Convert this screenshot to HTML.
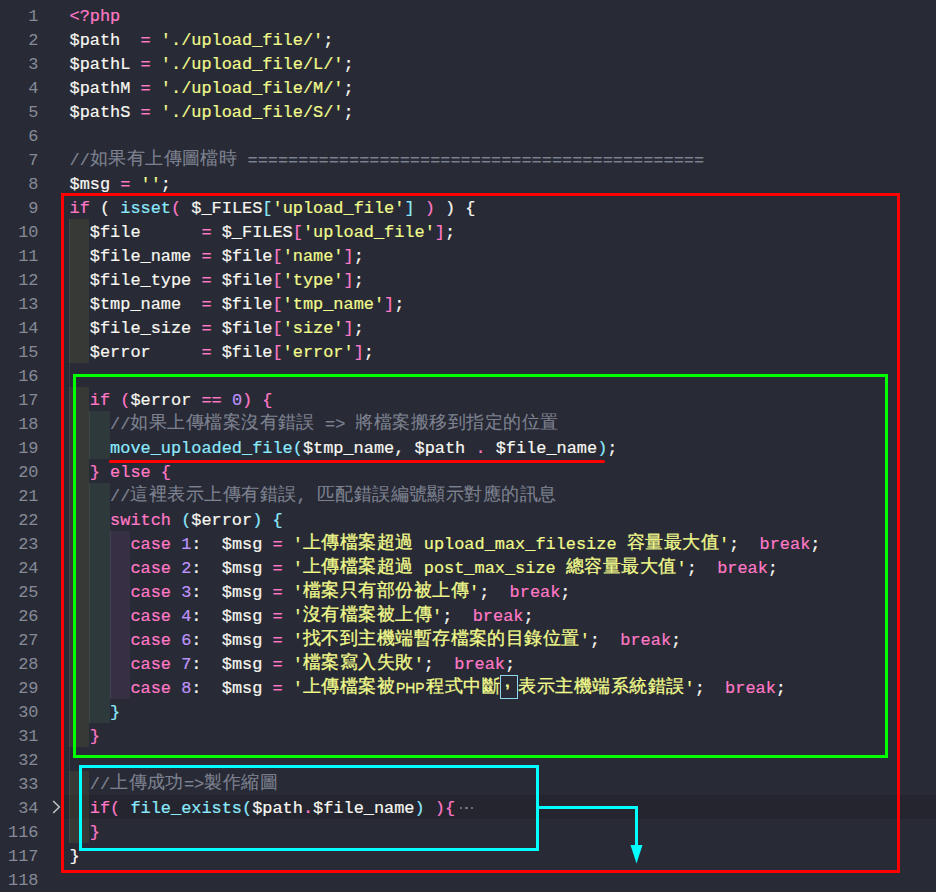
<!DOCTYPE html><html><head><meta charset="utf-8"><style>
*{margin:0;padding:0;box-sizing:border-box}
html,body{width:936px;height:892px;overflow:hidden;background:#282a36}
body{position:relative;font-family:"Liberation Mono",monospace;font-size:16.917px;line-height:24px;color:#f8f8f2}
.ln{position:absolute;left:0;width:38.5px;text-align:right;height:24px;color:#868a96;white-space:pre;padding-top:2px}
.row{position:absolute;left:69.5px;height:24px;white-space:pre;padding-top:2px;-webkit-text-stroke:0.2px}
.k{color:#ff79c6}.f{color:#8be9fd}.s{color:#f1fa8c}.n{color:#bd93f9}.c{color:#7e8290}.c .cj{-webkit-text-stroke:0.1px}.w{color:#f8f8f2}
.cj{display:inline-block;position:relative;top:-3px;-webkit-text-stroke:0.3px;font-family:"Liberation Sans",sans-serif;font-size:18px;letter-spacing:0.45px;vertical-align:top;height:24px;line-height:24px;overflow:visible;white-space:nowrap}
.php{display:inline-block;width:31px;font-family:"Liberation Sans",sans-serif;font-size:15.4px;vertical-align:top;height:24px;line-height:24px;position:relative;top:-1.5px;left:0.5px;transform:scaleX(0.9);transform-origin:0 0;-webkit-text-stroke:0.3px}
.cm{display:inline-block;vertical-align:top;height:24px;line-height:24px;font-family:"Liberation Sans",sans-serif;font-weight:bold;font-size:17px;text-indent:5px;position:relative;top:-7.5px}
.uhb{position:absolute;left:500px;top:675px;width:18px;height:24px;border:1px solid #8fd8f0}
.ell{display:inline-block;margin-left:4px;color:#8c8f99;font-size:14px;letter-spacing:-1px}
.rb{position:absolute;height:24px}
.g{position:absolute;width:1px;height:24px;background:rgba(255,255,255,0.075)}
.box{position:absolute;border-style:solid}
</style></head><body><div style="position:absolute;left:64px;top:795px;width:872px;height:24px;background:#24252f"></div>
<div class="rb" style="left:69.00px;top:219px;width:20.30px;background:rgba(255,255,64,0.07)"></div>
<div class="g" style="left:69px;top:219px"></div>
<div class="rb" style="left:69.00px;top:243px;width:20.30px;background:rgba(255,255,64,0.07)"></div>
<div class="g" style="left:69px;top:243px"></div>
<div class="rb" style="left:69.00px;top:267px;width:20.30px;background:rgba(255,255,64,0.07)"></div>
<div class="g" style="left:69px;top:267px"></div>
<div class="rb" style="left:69.00px;top:291px;width:20.30px;background:rgba(255,255,64,0.07)"></div>
<div class="g" style="left:69px;top:291px"></div>
<div class="rb" style="left:69.00px;top:315px;width:20.30px;background:rgba(255,255,64,0.07)"></div>
<div class="g" style="left:69px;top:315px"></div>
<div class="rb" style="left:69.00px;top:339px;width:20.30px;background:rgba(255,255,64,0.07)"></div>
<div class="g" style="left:69px;top:339px"></div>
<div class="g" style="left:69px;top:363px"></div>
<div class="rb" style="left:69.00px;top:387px;width:20.30px;background:rgba(255,255,64,0.07)"></div>
<div class="g" style="left:69px;top:387px"></div>
<div class="rb" style="left:69.00px;top:411px;width:20.30px;background:rgba(255,255,64,0.07)"></div>
<div class="rb" style="left:89.30px;top:411px;width:20.30px;background:rgba(127,255,127,0.07)"></div>
<div class="g" style="left:69px;top:411px"></div>
<div class="g" style="left:89px;top:411px"></div>
<div class="rb" style="left:69.00px;top:435px;width:20.30px;background:rgba(255,255,64,0.07)"></div>
<div class="rb" style="left:89.30px;top:435px;width:20.30px;background:rgba(127,255,127,0.07)"></div>
<div class="g" style="left:69px;top:435px"></div>
<div class="g" style="left:89px;top:435px"></div>
<div class="rb" style="left:69.00px;top:459px;width:20.30px;background:rgba(255,255,64,0.07)"></div>
<div class="g" style="left:69px;top:459px"></div>
<div class="rb" style="left:69.00px;top:483px;width:20.30px;background:rgba(255,255,64,0.07)"></div>
<div class="rb" style="left:89.30px;top:483px;width:20.30px;background:rgba(127,255,127,0.07)"></div>
<div class="g" style="left:69px;top:483px"></div>
<div class="g" style="left:89px;top:483px"></div>
<div class="rb" style="left:69.00px;top:507px;width:20.30px;background:rgba(255,255,64,0.07)"></div>
<div class="rb" style="left:89.30px;top:507px;width:20.30px;background:rgba(127,255,127,0.07)"></div>
<div class="g" style="left:69px;top:507px"></div>
<div class="g" style="left:89px;top:507px"></div>
<div class="rb" style="left:69.00px;top:531px;width:20.30px;background:rgba(255,255,64,0.07)"></div>
<div class="rb" style="left:89.30px;top:531px;width:20.30px;background:rgba(127,255,127,0.07)"></div>
<div class="rb" style="left:109.60px;top:531px;width:20.30px;background:rgba(255,127,255,0.07)"></div>
<div class="g" style="left:69px;top:531px"></div>
<div class="g" style="left:89px;top:531px"></div>
<div class="g" style="left:110px;top:531px"></div>
<div class="rb" style="left:69.00px;top:555px;width:20.30px;background:rgba(255,255,64,0.07)"></div>
<div class="rb" style="left:89.30px;top:555px;width:20.30px;background:rgba(127,255,127,0.07)"></div>
<div class="rb" style="left:109.60px;top:555px;width:20.30px;background:rgba(255,127,255,0.07)"></div>
<div class="g" style="left:69px;top:555px"></div>
<div class="g" style="left:89px;top:555px"></div>
<div class="g" style="left:110px;top:555px"></div>
<div class="rb" style="left:69.00px;top:579px;width:20.30px;background:rgba(255,255,64,0.07)"></div>
<div class="rb" style="left:89.30px;top:579px;width:20.30px;background:rgba(127,255,127,0.07)"></div>
<div class="rb" style="left:109.60px;top:579px;width:20.30px;background:rgba(255,127,255,0.07)"></div>
<div class="g" style="left:69px;top:579px"></div>
<div class="g" style="left:89px;top:579px"></div>
<div class="g" style="left:110px;top:579px"></div>
<div class="rb" style="left:69.00px;top:603px;width:20.30px;background:rgba(255,255,64,0.07)"></div>
<div class="rb" style="left:89.30px;top:603px;width:20.30px;background:rgba(127,255,127,0.07)"></div>
<div class="rb" style="left:109.60px;top:603px;width:20.30px;background:rgba(255,127,255,0.07)"></div>
<div class="g" style="left:69px;top:603px"></div>
<div class="g" style="left:89px;top:603px"></div>
<div class="g" style="left:110px;top:603px"></div>
<div class="rb" style="left:69.00px;top:627px;width:20.30px;background:rgba(255,255,64,0.07)"></div>
<div class="rb" style="left:89.30px;top:627px;width:20.30px;background:rgba(127,255,127,0.07)"></div>
<div class="rb" style="left:109.60px;top:627px;width:20.30px;background:rgba(255,127,255,0.07)"></div>
<div class="g" style="left:69px;top:627px"></div>
<div class="g" style="left:89px;top:627px"></div>
<div class="g" style="left:110px;top:627px"></div>
<div class="rb" style="left:69.00px;top:651px;width:20.30px;background:rgba(255,255,64,0.07)"></div>
<div class="rb" style="left:89.30px;top:651px;width:20.30px;background:rgba(127,255,127,0.07)"></div>
<div class="rb" style="left:109.60px;top:651px;width:20.30px;background:rgba(255,127,255,0.07)"></div>
<div class="g" style="left:69px;top:651px"></div>
<div class="g" style="left:89px;top:651px"></div>
<div class="g" style="left:110px;top:651px"></div>
<div class="rb" style="left:69.00px;top:675px;width:20.30px;background:rgba(255,255,64,0.07)"></div>
<div class="rb" style="left:89.30px;top:675px;width:20.30px;background:rgba(127,255,127,0.07)"></div>
<div class="rb" style="left:109.60px;top:675px;width:20.30px;background:rgba(255,127,255,0.07)"></div>
<div class="g" style="left:69px;top:675px"></div>
<div class="g" style="left:89px;top:675px"></div>
<div class="g" style="left:110px;top:675px"></div>
<div class="rb" style="left:69.00px;top:699px;width:20.30px;background:rgba(255,255,64,0.07)"></div>
<div class="rb" style="left:89.30px;top:699px;width:20.30px;background:rgba(127,255,127,0.07)"></div>
<div class="g" style="left:69px;top:699px"></div>
<div class="g" style="left:89px;top:699px"></div>
<div class="rb" style="left:69.00px;top:723px;width:20.30px;background:rgba(255,255,64,0.07)"></div>
<div class="g" style="left:69px;top:723px"></div>
<div class="g" style="left:69px;top:747px"></div>
<div class="rb" style="left:69.00px;top:771px;width:20.30px;background:rgba(255,255,64,0.07)"></div>
<div class="g" style="left:69px;top:771px"></div>
<div class="rb" style="left:69.00px;top:795px;width:20.30px;background:rgba(255,255,64,0.07)"></div>
<div class="g" style="left:69px;top:795px"></div>
<div class="rb" style="left:69.00px;top:819px;width:20.30px;background:rgba(255,255,64,0.07)"></div>
<div class="g" style="left:69px;top:819px"></div>
<div class="ln" style="top:3px">1</div>
<div class="row" style="top:3px"><span class="k">&lt;?php</span></div>
<div class="ln" style="top:27px">2</div>
<div class="row" style="top:27px"><span class="w">$path</span>  <span class="k">=</span> <span class="s">&#x27;./upload_file/&#x27;</span><span class="w">;</span></div>
<div class="ln" style="top:51px">3</div>
<div class="row" style="top:51px"><span class="w">$pathL</span> <span class="k">=</span> <span class="s">&#x27;./upload_file/L/&#x27;</span><span class="w">;</span></div>
<div class="ln" style="top:75px">4</div>
<div class="row" style="top:75px"><span class="w">$pathM</span> <span class="k">=</span> <span class="s">&#x27;./upload_file/M/&#x27;</span><span class="w">;</span></div>
<div class="ln" style="top:99px">5</div>
<div class="row" style="top:99px"><span class="w">$pathS</span> <span class="k">=</span> <span class="s">&#x27;./upload_file/S/&#x27;</span><span class="w">;</span></div>
<div class="ln" style="top:123px">6</div>
<div class="ln" style="top:147px">7</div>
<div class="row" style="top:147px"><span class="c">//<span class="cj" style="width:147.60px">如果有上傳圖檔時</span> =============================================</span></div>
<div class="ln" style="top:171px">8</div>
<div class="row" style="top:171px"><span class="w">$msg</span> <span class="k">=</span> <span class="s">&#x27;&#x27;</span><span class="w">;</span></div>
<div class="ln" style="top:195px">9</div>
<div class="row" style="top:195px"><span class="k">if</span> <span class="w">(</span> <span class="f">isset</span><span class="k">(</span> <span class="w">$_FILES</span><span class="f">[</span><span class="s">&#x27;upload_file&#x27;</span><span class="f">]</span> <span class="k">)</span> <span class="w">)</span> <span class="w">{</span></div>
<div class="ln" style="top:219px">10</div>
<div class="row" style="top:219px">  <span class="w">$file</span>      <span class="k">=</span> <span class="w">$_FILES</span><span class="k">[</span><span class="s">&#x27;upload_file&#x27;</span><span class="k">]</span><span class="w">;</span></div>
<div class="ln" style="top:243px">11</div>
<div class="row" style="top:243px">  <span class="w">$file_name</span> <span class="k">=</span> <span class="w">$file</span><span class="k">[</span><span class="s">&#x27;name&#x27;</span><span class="k">]</span><span class="w">;</span></div>
<div class="ln" style="top:267px">12</div>
<div class="row" style="top:267px">  <span class="w">$file_type</span> <span class="k">=</span> <span class="w">$file</span><span class="k">[</span><span class="s">&#x27;type&#x27;</span><span class="k">]</span><span class="w">;</span></div>
<div class="ln" style="top:291px">13</div>
<div class="row" style="top:291px">  <span class="w">$tmp_name</span>  <span class="k">=</span> <span class="w">$file</span><span class="k">[</span><span class="s">&#x27;tmp_name&#x27;</span><span class="k">]</span><span class="w">;</span></div>
<div class="ln" style="top:315px">14</div>
<div class="row" style="top:315px">  <span class="w">$file_size</span> <span class="k">=</span> <span class="w">$file</span><span class="k">[</span><span class="s">&#x27;size&#x27;</span><span class="k">]</span><span class="w">;</span></div>
<div class="ln" style="top:339px">15</div>
<div class="row" style="top:339px">  <span class="w">$error</span>     <span class="k">=</span> <span class="w">$file</span><span class="k">[</span><span class="s">&#x27;error&#x27;</span><span class="k">]</span><span class="w">;</span></div>
<div class="ln" style="top:363px">16</div>
<div class="ln" style="top:387px">17</div>
<div class="row" style="top:387px">  <span class="k">if</span> <span class="k">(</span><span class="w">$error</span> <span class="k">==</span> <span class="n">0</span><span class="k">)</span> <span class="k">{</span></div>
<div class="ln" style="top:411px">18</div>
<div class="row" style="top:411px">    <span class="c">//<span class="cj" style="width:184.50px">如果上傳檔案沒有錯誤</span> =&gt; <span class="cj" style="width:202.95px">將檔案搬移到指定的位置</span></span></div>
<div class="ln" style="top:435px">19</div>
<div class="row" style="top:435px">    <span class="f">move_uploaded_file</span><span class="f">(</span><span class="w">$tmp_name</span><span class="w">,</span> <span class="w">$path</span> <span class="k">.</span> <span class="w">$file_name</span><span class="f">)</span><span class="w">;</span></div>
<div class="ln" style="top:459px">20</div>
<div class="row" style="top:459px">  <span class="k">}</span> <span class="k">else</span> <span class="k">{</span></div>
<div class="ln" style="top:483px">21</div>
<div class="row" style="top:483px">    <span class="c">//<span class="cj" style="width:166.05px">這裡表示上傳有錯誤</span>, <span class="cj" style="width:239.85px">匹配錯誤編號顯示對應的訊息</span></span></div>
<div class="ln" style="top:507px">22</div>
<div class="row" style="top:507px">    <span class="k">switch</span> <span class="f">(</span><span class="w">$error</span><span class="f">)</span> <span class="f">{</span></div>
<div class="ln" style="top:531px">23</div>
<div class="row" style="top:531px">      <span class="k">case</span> <span class="n">1</span><span class="w">:</span>  <span class="w">$msg</span> <span class="k">=</span> <span class="s">&#x27;<span class="cj" style="width:110.70px">上傳檔案超過</span> upload_max_filesize <span class="cj" style="width:92.25px">容量最大值</span>&#x27;</span><span class="w">;</span>  <span class="k">break</span><span class="w">;</span></div>
<div class="ln" style="top:555px">24</div>
<div class="row" style="top:555px">      <span class="k">case</span> <span class="n">2</span><span class="w">:</span>  <span class="w">$msg</span> <span class="k">=</span> <span class="s">&#x27;<span class="cj" style="width:110.70px">上傳檔案超過</span> post_max_size <span class="cj" style="width:110.70px">總容量最大值</span>&#x27;</span><span class="w">;</span>  <span class="k">break</span><span class="w">;</span></div>
<div class="ln" style="top:579px">25</div>
<div class="row" style="top:579px">      <span class="k">case</span> <span class="n">3</span><span class="w">:</span>  <span class="w">$msg</span> <span class="k">=</span> <span class="s">&#x27;<span class="cj" style="width:166.05px">檔案只有部份被上傳</span>&#x27;</span><span class="w">;</span>  <span class="k">break</span><span class="w">;</span></div>
<div class="ln" style="top:603px">26</div>
<div class="row" style="top:603px">      <span class="k">case</span> <span class="n">4</span><span class="w">:</span>  <span class="w">$msg</span> <span class="k">=</span> <span class="s">&#x27;<span class="cj" style="width:129.15px">沒有檔案被上傳</span>&#x27;</span><span class="w">;</span>  <span class="k">break</span><span class="w">;</span></div>
<div class="ln" style="top:627px">27</div>
<div class="row" style="top:627px">      <span class="k">case</span> <span class="n">6</span><span class="w">:</span>  <span class="w">$msg</span> <span class="k">=</span> <span class="s">&#x27;<span class="cj" style="width:276.75px">找不到主機端暫存檔案的目錄位置</span>&#x27;</span><span class="w">;</span>  <span class="k">break</span><span class="w">;</span></div>
<div class="ln" style="top:651px">28</div>
<div class="row" style="top:651px">      <span class="k">case</span> <span class="n">7</span><span class="w">:</span>  <span class="w">$msg</span> <span class="k">=</span> <span class="s">&#x27;<span class="cj" style="width:110.70px">檔案寫入失敗</span>&#x27;</span><span class="w">;</span>  <span class="k">break</span><span class="w">;</span></div>
<div class="ln" style="top:675px">29</div>
<div class="row" style="top:675px">      <span class="k">case</span> <span class="n">8</span><span class="w">:</span>  <span class="w">$msg</span> <span class="k">=</span> <span class="s">'<span class="cj" style="width:92.25px">上傳檔案被</span><span class="php">PHP</span><span class="cj" style="width:73.80px">程式中斷</span><span class="cm" style="width:18.45px">,</span><span class="cj" style="width:166.05px">表示主機端系統錯誤</span>'</span><span class="w">;</span>  <span class="k">break</span><span class="w">;</span></div>
<div class="ln" style="top:699px">30</div>
<div class="row" style="top:699px">    <span class="f">}</span></div>
<div class="ln" style="top:723px">31</div>
<div class="row" style="top:723px">  <span class="k">}</span></div>
<div class="ln" style="top:747px">32</div>
<div class="ln" style="top:771px">33</div>
<div class="row" style="top:771px">  <span class="c">//<span class="cj" style="width:73.80px">上傳成功</span>=&gt;<span class="cj" style="width:73.80px">製作縮圖</span></span></div>
<div class="ln" style="top:795px">34</div>
<div class="row" style="top:795px">  <span class="k">if</span><span class="k">(</span> <span class="f">file_exists</span><span class="f">(</span><span class="w">$path</span><span class="k">.</span><span class="w">$file_name</span><span class="f">)</span> <span class="k">)</span><span class="k">{</span></div>
<div class="ln" style="top:819px">116</div>
<div class="row" style="top:819px">  <span class="k">}</span></div>
<div class="ln" style="top:843px">117</div>
<div class="row" style="top:843px"><span class="w">}</span></div>
<div class="ln" style="top:867px">118</div>
<div class="uhb"></div>
<div style="position:absolute;left:459.8px;top:807px;width:2.2px;height:2.2px;border-radius:1.1px;background:#84827e"></div>
<div style="position:absolute;left:465.4px;top:807px;width:2.2px;height:2.2px;border-radius:1.1px;background:#84827e"></div>
<div style="position:absolute;left:471.0px;top:807px;width:2.2px;height:2.2px;border-radius:1.1px;background:#84827e"></div>
<svg style="position:absolute;left:50px;top:798px" width="14" height="18" viewBox="0 0 14 18"><path d="M3.2 3 L9.3 9 L3.2 15" fill="none" stroke="#c5c5c5" stroke-width="1.5"/></svg>
<div class="box" style="left:61px;top:193px;width:839px;height:680px;border-width:3px;border-color:#ff0000"></div>
<div class="box" style="left:73px;top:374px;width:815px;height:384px;border-width:3px;border-color:#00ff00"></div>
<div class="box" style="left:79px;top:765px;width:460px;height:86px;border-width:3px;border-color:#00ffff"></div>
<div style="position:absolute;left:109px;top:460px;width:496px;height:3px;border-radius:1.5px;background:#ff0000"></div>
<svg style="position:absolute;left:530px;top:800px" width="120" height="70" viewBox="0 0 120 70"><path d="M6 7.5 H106.5 V46" fill="none" stroke="#00ffff" stroke-width="3"/><path d="M100.5 45 L112.5 45 L106.5 63.5 Z" fill="#00ffff"/></svg></body></html>
